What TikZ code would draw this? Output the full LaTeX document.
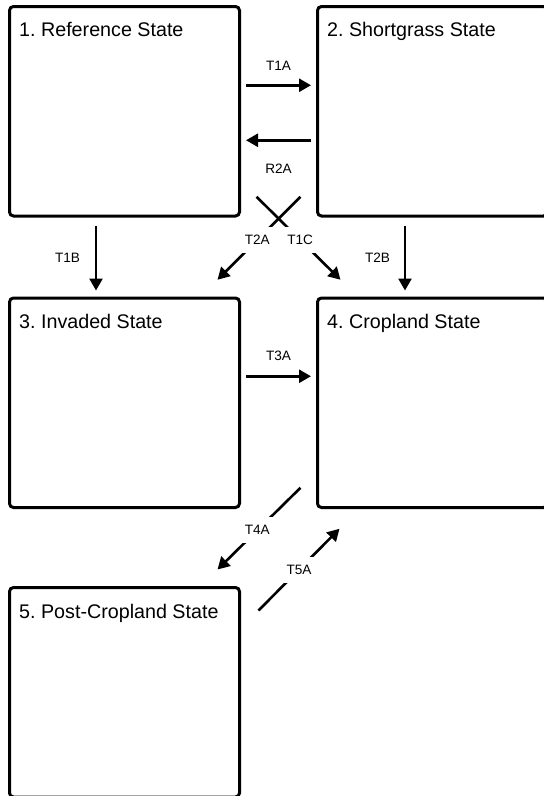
\documentclass[tikz,border=0pt]{standalone}
\usepackage{fontspec}
\setmainfont{Liberation Sans}
\usetikzlibrary{arrows.meta}
\usetikzlibrary{positioning}
\frenchspacing
\tikzset{
	statebox/.style={draw, line width=3pt, rounded corners=4pt, minimum width=230pt, minimum height=209.5pt, inner sep=0pt},
	statetext/.style={anchor=base west, inner sep=0pt, font=\fontsize{19.7}{23}\selectfont},
	trans/.style={line width=2.6pt, -{Triangle[length=12pt,width=13pt]}},
	tlabel/.style={fill=white, inner sep=3pt, minimum height=26pt, font=\fontsize{13.6}{16}\selectfont}
}

\begin{document}
\begin{tikzpicture}[x=1pt, y=-1pt]
			\useasboundingbox (0, 0) rectangle (544, 796);
			% state boxes
			\node[statebox] (s1) at (124.5, 111.25) {};
			\node[statebox] (s2) at (432.5, 111.25) {};
			\node[statebox] (s3) at (124.5, 402.75) {};
			\node[statebox] (s4) at (432.5, 402.75) {};
			\node[statebox] (s5) at (124.5, 692.25) {};
			\node[statetext] (n1) at ([xshift=11pt, yshift=-31.5pt]s1.north west) {1. Reference State};
			\node[statetext] (n2) at ([xshift=11pt, yshift=-31.5pt]s2.north west) {2. Shortgrass State};
			\node[statetext] (n3) at ([xshift=11pt, yshift=-31.5pt]s3.north west) {3. Invaded State};
			\node[statetext] (n4) at ([xshift=11pt, yshift=-31.5pt]s4.north west) {4. Cropland State};
			\node[statetext] (n5) at ([xshift=11pt, yshift=-32pt]s5.north west) {5. Post-Cropland State};
			% transitions
			\draw[trans] ([xshift=5pt, yshift=26pt]s1.east) -- node[tlabel, yshift=19pt, fill=none] {T1A} ([xshift=-5pt, yshift=26pt]s2.west);
			\draw[trans] ([xshift=-5pt, yshift=-29pt]s2.west) -- node[tlabel, yshift=-28pt, fill=none] {R2A} ([xshift=5pt, yshift=-29pt]s1.east);
			\draw[trans] ([xshift=-28.5pt, yshift=-8pt]s1.south) -- node[tlabel, xshift=-28.5pt, fill=none] {T1B} ([xshift=-28.5pt, yshift=6pt]s3.north);
			\draw[trans] ([xshift=-27.5pt, yshift=-8pt]s2.south) -- node[tlabel, xshift=-27.5pt, fill=none] {T2B} ([xshift=-27.5pt, yshift=6pt]s4.north);
			\draw[trans] ([xshift=15.5pt, yshift=20.75pt]s1.south east) -- node[tlabel, pos=.52] {T1C} ([xshift=24.5pt, yshift=16.75pt]s4.north west);
			\draw[trans] ([xshift=-15.5pt, yshift=20.75pt]s2.south west) -- node[tlabel, pos=.52] {T2A} ([xshift=-23.5pt, yshift=16.75pt]s3.north east);
			\draw[trans] ([xshift=5pt, yshift=26.5pt]s3.east) -- node[tlabel, yshift=20pt, fill=none] {T3A} ([xshift=-5pt, yshift=26.5pt]s4.west);
			\draw[trans] ([xshift=-15.5pt, yshift=21.25pt]s4.south west) -- node[tlabel, pos=.52] {T4A} ([xshift=-23.5pt, yshift=16.5pt]s5.north east);
			\draw[trans] ([xshift=17.5pt, yshift=-24.5pt]s5.north east) -- node[tlabel, pos=.5] {T5A} ([xshift=23.5pt, yshift=-19.75pt]s4.south west);
		\end{tikzpicture}
\end{document}
